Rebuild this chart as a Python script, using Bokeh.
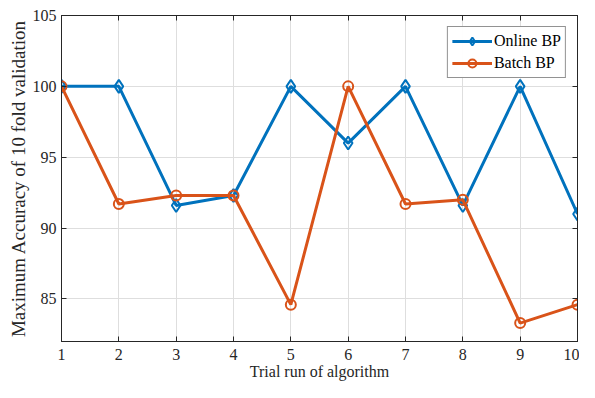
from bokeh.plotting import figure
from bokeh.embed import file_html
from bokeh.resources import INLINE
from bokeh.models import LinearAxis, Range1d, FixedTicker, Legend, LegendItem

trials = [1, 2, 3, 4, 5, 6, 7, 8, 9, 10]
online_bp = [100, 100, 91.6, 92.3, 100, 96.0, 100, 91.6, 100, 91.0]
batch_bp = [100, 91.7, 92.3, 92.3, 84.6, 100, 91.7, 92.0, 83.3, 84.6]
y_ticks = [85, 90, 95, 100, 105]
x_label = "Trial run of algorithm"
y_label = "Maximum Accuracy of 10 fold validation"

FONT = "Liberation Serif"
BLUE = "#0072BD"
ORANGE = "#D95319"
DARK = "#262626"

p = figure(width=579, height=382, output_backend="svg", toolbar_location=None,
           x_range=Range1d(1, 10), y_range=Range1d(82, 105),
           min_border_left=61, min_border_right=2, min_border_top=15, min_border_bottom=41)
p.outline_line_color = DARK
p.outline_line_width = 1

for ax in (p.xaxis[0], p.yaxis[0]):
    ax.major_tick_in = 5
    ax.major_tick_out = 0
    ax.minor_tick_line_color = None
    ax.axis_line_color = DARK
    ax.major_tick_line_color = DARK
    ax.major_label_text_font = FONT
    ax.major_label_text_font_size = "16px"
    ax.major_label_text_color = DARK
    ax.axis_label_text_font = FONT
    ax.axis_label_text_font_style = "normal"
    ax.axis_label_text_color = DARK

p.xaxis.ticker = FixedTicker(ticks=trials)
p.yaxis.ticker = FixedTicker(ticks=y_ticks)
p.xaxis.axis_label = x_label
p.yaxis.axis_label = y_label
p.xaxis.axis_label_text_font_size = "16px"
p.yaxis.axis_label_text_font_size = "19px"
p.xaxis.axis_label_standoff = 0
p.yaxis.axis_label_standoff = 1
p.xaxis.major_label_standoff = 7
p.yaxis.major_label_standoff = 5

# MATLAB-like box ticks on top and right (no labels)
top = LinearAxis(ticker=FixedTicker(ticks=trials), major_label_text_color=None,
                 major_label_text_font_size="0px", major_label_standoff=0,
                 major_tick_in=5, major_tick_out=0, minor_tick_line_color=None,
                 axis_line_color=DARK, major_tick_line_color=DARK)
right = LinearAxis(ticker=FixedTicker(ticks=y_ticks), major_label_text_color=None,
                   major_label_text_font_size="0px", major_label_standoff=0,
                   major_tick_in=5, major_tick_out=0, minor_tick_line_color=None,
                   axis_line_color=DARK, major_tick_line_color=DARK)
p.add_layout(top, "above")
p.add_layout(right, "right")

p.xgrid.ticker = FixedTicker(ticks=trials)
p.ygrid.ticker = FixedTicker(ticks=y_ticks)
p.grid.grid_line_color = "#dedede"
p.grid.grid_line_width = 1

l1 = p.line(trials, online_bp, line_color=BLUE, line_width=3)
m1 = p.scatter(trials, online_bp, marker="diamond", size=13, line_color=BLUE,
               line_width=2, fill_alpha=0)
l2 = p.line(trials, batch_bp, line_color=ORANGE, line_width=3)
m2 = p.scatter(trials, batch_bp, marker="circle", size=10, line_color=ORANGE,
               line_width=2, fill_alpha=0)

legend = Legend(items=[LegendItem(label="Online BP", renderers=[l1, m1]),
                       LegendItem(label="Batch BP", renderers=[l2, m2])],
                location="top_right")
legend.label_text_font = FONT
legend.label_text_font_size = "16px"
legend.label_text_color = "#000000"
legend.border_line_color = DARK
legend.border_line_width = 1
legend.margin = 11
legend.padding = 4
legend.spacing = 2
legend.glyph_width = 40
legend.label_standoff = 2
p.add_layout(legend)

open("out.html", "w").write(file_html(p, INLINE))
